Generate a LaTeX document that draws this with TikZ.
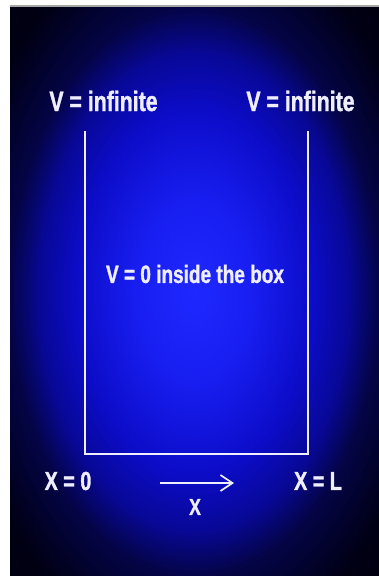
\documentclass[tikz,border=0pt]{standalone}
\usepackage{fontspec}
\setmainfont{Liberation Sans}[FakeStretch=0.76, BoldFeatures={FakeBold=1.2}]
\definecolor{WellGlow}{RGB}{30,40,255}
\definecolor{WellInner}{RGB}{24,30,240}
\definecolor{WellMid}{RGB}{12,12,200}
\definecolor{WellDeep}{RGB}{8,8,150}
\definecolor{WellDark}{RGB}{4,4,70}
\definecolor{WellEdge}{RGB}{0,0,20}
\definecolor{WellLine}{RGB}{238,238,255}
\pgfdeclareradialshading{wellbg}{\pgfpoint{0bp}{0bp}}{%
    color(0bp)=(WellGlow);
    color(8bp)=(WellInner);
    color(16bp)=(WellMid);
    color(21bp)=(WellDeep);
    color(25bp)=(WellDark);
    color(32bp)=(WellEdge);
    color(50bp)=(black)}
\usetikzlibrary{
    arrows.meta,
    positioning,
}

\begin{document}
\begin{tikzpicture}[
    x=1pt, y=-1pt,
    lbl/.style={font=\fontsize{#1}{#1}\selectfont\bfseries, text=WellLine, inner sep=0pt},
    lbl/.default=26,
    wall/.style={draw=WellLine, line width=2pt},
    arr/.style={-{Straight Barb[length=12pt, width=16pt]}, draw=WellLine, line width=1.7pt}
]
    \useasboundingbox (0,0) rectangle (379,576);
    \fill[white] (0,0) rectangle (379,576);
    \fill[gray!70] (10,5) rectangle (379,7.5);
    \shade[shading=wellbg] (10,7) rectangle (379,576);

    % the box
    \coordinate (tl) at (85,131);
    \coordinate (bl) at (85,454);
    \coordinate (br) at (308,454);
    \coordinate (tr) at (308,131);
    \draw[wall] (tl) -- (bl) -- (br) -- (tr);

    \node[lbl=28] (vl) at (103.5,101) {V = infinite};
    \node[lbl=28] (vr) at (300.5,101) {V = infinite};
    \node[lbl=25] (vin) at (195,274) {V = 0 inside the box};

    \node[lbl] (x0) at (68,481) {X = 0};
    \node[lbl] (xl) at (318,481) {X = L};

    \coordinate (xa) at (160,483);
    \coordinate (xb) at (234,483);
    \draw[arr] (xa) -- (xb);
    \node[lbl=23] (xx) at (195,507) {X};
\end{tikzpicture}
\end{document}
